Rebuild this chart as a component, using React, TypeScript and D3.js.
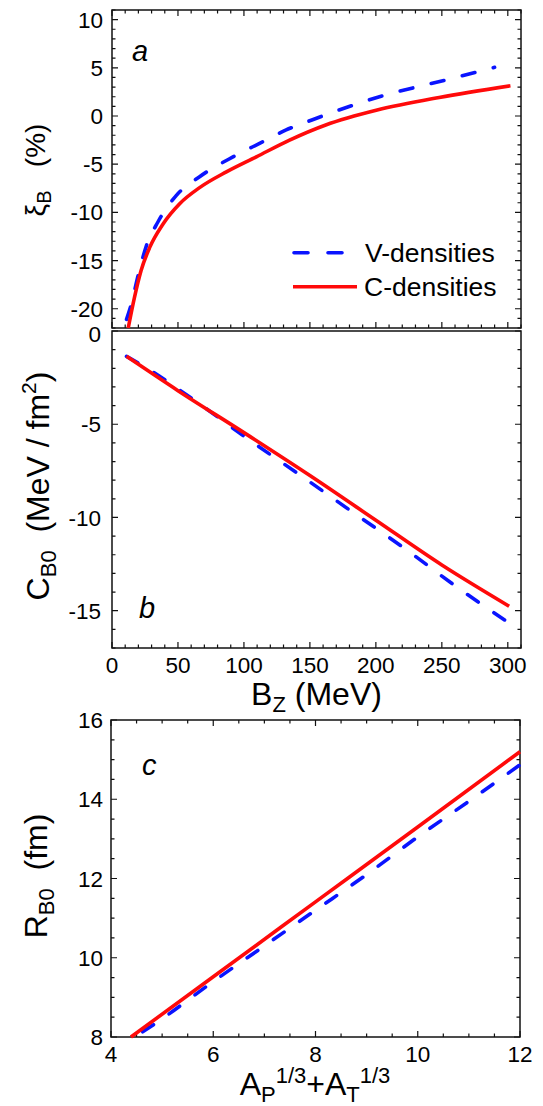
import React from "react";
import * as d3 from "d3";

const W = 543;
const H = 1106;

// panel a : xi_B (%) vs B_Z (MeV)
const bzCa = [12.3, 17, 22, 28.6, 38.7, 51.3, 66.4, 86.7, 109.4, 134.6, 162, 201, 248, 302];
const xiC = [-22, -18.85, -16.06, -13.63, -11.2, -9.1, -7.43, -5.8, -4.24, -2.5, -0.93, 0.62, 1.93, 3.14];
const bzVa = [11, 14.7, 19.7, 26, 34.8, 48.8, 66.4, 91.7, 114.4, 132, 151.5, 204, 256, 290];
const xiV = [-21.1, -19.5, -16.6, -13.5, -11.0, -8.24, -6.3, -4.24, -2.67, -1.45, -0.41, 2.05, 3.84, 5.05];

// panel b : C_B0 vs B_Z
const bzCb = [11, 50, 100, 150, 200, 250, 301];
const cbC = [-1.36, -3.2, -5.45, -7.75, -10.15, -12.55, -14.76];
const bzVb = [11, 20.7, 62.5, 104.4, 141, 180.3, 222, 261.4, 301];
const cbV = [-1.36, -1.75, -3.72, -5.86, -7.65, -9.61, -11.67, -13.73, -15.66];

// panel c : R_B0 vs A_P^1/3 + A_T^1/3
const aC = [4.39, 6, 8, 10, 12];
const rC = [8.0, 9.52, 11.41, 13.3, 15.2];
const aV = [4.62, 5, 6, 7, 8, 9, 10, 11, 12];
const rV = [8.13, 8.46, 9.4, 10.3, 11.2, 12.1, 13.05, 13.95, 14.87];

// ticks
const bzMajor = [0, 50, 100, 150, 200, 250, 300];
const bzMinor = d3.range(0, 311, 10);
const xiMajor = [10, 5, 0, -5, -10, -15, -20];
const xiMinor = d3.range(-22, 12, 1);
const cbMajor = [0, -5, -10, -15];
const cbMinor = d3.range(-17, 1, 1);
const aMajor = [4, 6, 8, 10, 12];
const aMinor = d3.range(4, 12.01, 0.5);
const rMajor = [8, 10, 12, 14, 16];
const rMinor = d3.range(8, 16.01, 0.5);

const BLUE = "#0a14ff";
const RED = "#ff0a0a";
const FONT = "'Liberation Sans', Arial, sans-serif";
const TICK_FS = 22.5;

type Sc = d3.ScaleLinear<number, number>;

function Frame(props: {
  x: Sc; y: Sc; xMaj: number[]; xMin: number[]; yMaj: number[]; yMin: number[];
  top?: boolean; xLabels?: boolean; labelX: number; labelDy: number; topLabelShift?: number;
}) {
  const { x, y, xMaj, xMin, yMaj, yMin, top = true, xLabels = false, labelX, labelDy, topLabelShift = 0 } = props;
  const [x0, x1] = x.range();
  const [y1, y0] = y.range();
  const maj = 6, mn = 3.5;
  const segs: string[] = [];
  xMin.forEach((v) => {
    const L = xMaj.includes(v) ? maj : mn;
    segs.push(`M${x(v)},${y1}v${-L}`);
    if (top) segs.push(`M${x(v)},${y0}v${L}`);
  });
  yMin.forEach((v) => {
    const L = yMaj.includes(v) ? maj : mn;
    segs.push(`M${x0},${y(v)}h${L}`);
    segs.push(`M${x1},${y(v)}h${-L}`);
  });
  return (
    <g>
      <path d={segs.join("")} stroke="#111" strokeWidth={1.2} fill="none" />
      <rect x={x0} y={y0} width={x1 - x0} height={y1 - y0} fill="none" stroke="#111" strokeWidth={1.5} />
      {yMaj.map((v) => (
        <text key={"y" + v} x={labelX} y={y(v) + (y(v) === y0 ? topLabelShift : 0)} dy="0.36em" textAnchor="end" fontSize={TICK_FS}>
          {v}
        </text>
      ))}
      {xLabels &&
        xMaj.map((v) => (
          <text key={"x" + v} x={x(v)} y={y1 + labelDy} dy="0.36em" textAnchor="middle" fontSize={TICK_FS}>
            {v}
          </text>
        ))}
    </g>
  );
}

function curve(xs: number[], ys: number[], x: Sc, y: Sc) {
  const pts = xs.map((v, i) => [v, ys[i]] as [number, number]);
  return d3
    .line<[number, number]>()
    .x((d) => x(d[0]))
    .y((d) => y(d[1]))
    .curve(d3.curveMonotoneX)(pts) as string;
}

export default function App() {
  const xa = d3.scaleLinear().domain([0, 310]).range([112, 521]);
  const ya = d3.scaleLinear().domain([-22, 11]).range([328, 10]);
  const yb = d3.scaleLinear().domain([-17, 0]).range([648, 331]);
  const xc = d3.scaleLinear().domain([4, 12]).range([111, 520]);
  const yc = d3.scaleLinear().domain([8, 16]).range([1037, 720]);

  const dash = "13 19";
  const lw = 3.6;

  return (
    <div style={{ position: "absolute", left: 0, top: 0 }}>
      <svg width={W} height={H} style={{ display: "block", background: "#fff" }} fontFamily={FONT}>
        {/* panel a */}
        <Frame x={xa} y={ya} xMaj={bzMajor} xMin={bzMinor} yMaj={xiMajor} yMin={xiMinor} labelX={103} labelDy={0} />
        <path d={curve(bzVa, xiV, xa, ya)} fill="none" stroke={BLUE} strokeWidth={lw} strokeDasharray={dash} strokeLinecap="round" />
        <path d={curve(bzCa, xiC, xa, ya)} fill="none" stroke={RED} strokeWidth={lw} />
        <text x={132} y={60.5} fontSize={29} fontStyle="italic">a</text>
        <text transform="translate(45,170) rotate(-90)" textAnchor="middle" fontSize={28} style={{ whiteSpace: "pre" }}>
          ξ<tspan fontSize={20} dy={6}>B</tspan>
          <tspan dy={-6}>{"   (%)"}</tspan>
        </text>
        {/* legend */}
        <line x1={294} x2={357} y1={252.7} y2={252.7} stroke={BLUE} strokeWidth={lw} strokeDasharray="14 20" strokeLinecap="round" />
        <line x1={293} x2={357} y1={286.7} y2={286.7} stroke={RED} strokeWidth={lw} />
        <text x={365} y={262} fontSize={26.5}>V-densities</text>
        <text x={364} y={296} fontSize={26.5}>C-densities</text>

        {/* panel b */}
        <Frame x={xa} y={yb} xMaj={bzMajor} xMin={bzMinor} yMaj={cbMajor} yMin={cbMinor} top={false} xLabels labelX={101} labelDy={17} topLabelShift={2.5} />
        <path d={curve(bzVb, cbV, xa, yb)} fill="none" stroke={BLUE} strokeWidth={lw} strokeDasharray={dash} strokeLinecap="round" />
        <path d={curve(bzCb, cbC, xa, yb)} fill="none" stroke={RED} strokeWidth={lw} />
        <text x={139} y={618} fontSize={29} fontStyle="italic">b</text>
        <text transform="translate(49,486) rotate(-90)" textAnchor="middle" fontSize={32} style={{ whiteSpace: "pre" }}>
          C<tspan fontSize={22} dy={7}>B0</tspan>
          <tspan dy={-7}>{"  (MeV / fm"}</tspan>
          <tspan fontSize={21} dy={-13}>2</tspan>
          <tspan dy={13}>)</tspan>
        </text>
        <text x={316.5} y={705} textAnchor="middle" fontSize={32} style={{ whiteSpace: "pre" }}>
          B<tspan fontSize={22} dy={7}>Z</tspan>
          <tspan dy={-7}>{" (MeV)"}</tspan>
        </text>

        {/* panel c */}
        <Frame x={xc} y={yc} xMaj={aMajor} xMin={aMinor} yMaj={rMajor} yMin={rMinor} xLabels labelX={103} labelDy={16.5} />
        <path d={curve(aV, rV, xc, yc)} fill="none" stroke={BLUE} strokeWidth={lw} strokeDasharray={dash} strokeLinecap="round" />
        <path d={curve(aC, rC, xc, yc)} fill="none" stroke={RED} strokeWidth={lw} />
        <text x={142} y={775} fontSize={29} fontStyle="italic">c</text>
        <text transform="translate(47,876) rotate(-90)" textAnchor="middle" fontSize={32} style={{ whiteSpace: "pre" }}>
          R<tspan fontSize={22} dy={7}>B0</tspan>
          <tspan dy={-7}>{"  (fm)"}</tspan>
        </text>
        <text x={315} y={1095} textAnchor="middle" fontSize={32}>
          A<tspan fontSize={22} dy={7}>P</tspan>
          <tspan fontSize={22} dy={-19}>1/3</tspan>
          <tspan dy={12}>+A</tspan>
          <tspan fontSize={22} dy={7}>T</tspan>
          <tspan fontSize={22} dy={-19}>1/3</tspan>
        </text>
      </svg>
    </div>
  );
}
